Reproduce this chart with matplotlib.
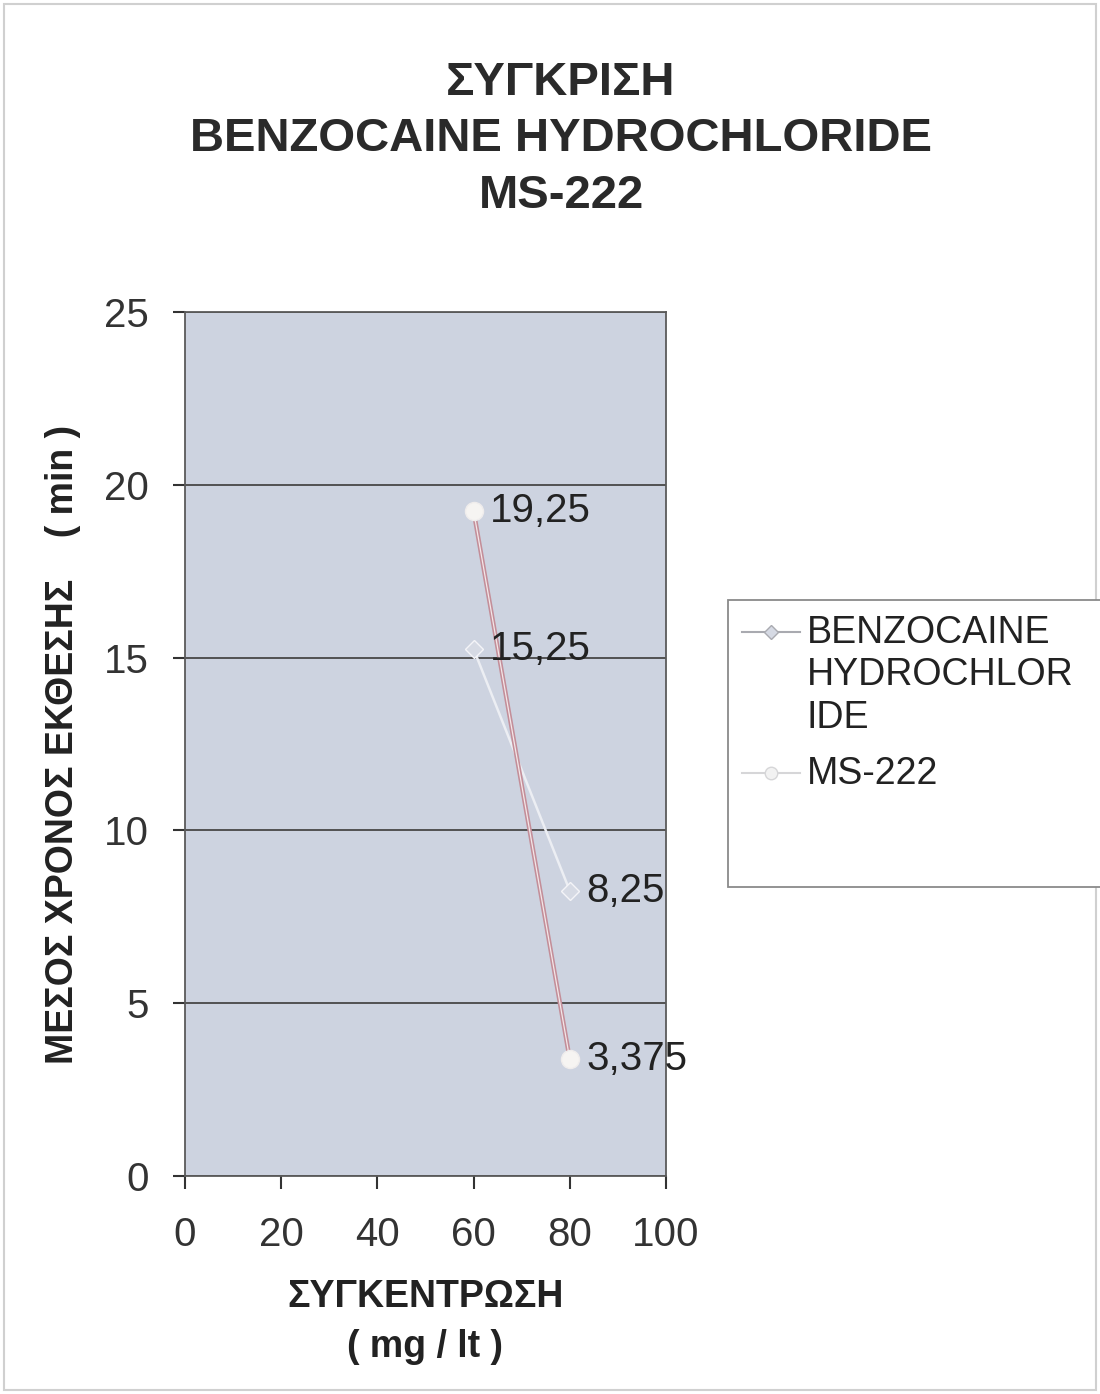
import matplotlib
matplotlib.use('Agg')
import matplotlib.pyplot as plt
from matplotlib.patches import Rectangle
from matplotlib.lines import Line2D

plt.rcParams['font.family'] = ['Liberation Sans', 'DejaVu Sans']

concentration = [60, 80]
benzocaine = [15.25, 8.25]
ms222 = [19.25, 3.375]
benzocaine_labels = ['15,25', '8,25']
ms222_labels = ['19,25', '3,375']
series_names = ['BENZOCAINE\nHYDROCHLOR\nIDE', 'MS-222']

fig = plt.figure(figsize=(11, 13.94), dpi=100)
fig.patch.set_facecolor('white')
fig.patches.append(Rectangle((0.004, 0.003), 0.992, 0.994, transform=fig.transFigure,
                             fill=False, edgecolor='#d0d0d0', linewidth=1.5))

ax = fig.add_axes([0.168, 0.1564, 0.4375, 0.6198])
ax.set_facecolor('#cdd3e0')

# benzocaine: pale thin line, diamond markers
ax.plot(concentration, benzocaine, color='#eceef3', linewidth=1.8,
        marker='D', markersize=9, markerfacecolor='#d6dae4', markeredgecolor='#f4f4f8',
        zorder=3)
# ms-222: pink line with a white core, round markers
ax.plot(concentration, ms222, color='#c38e99', linewidth=3.2, zorder=4)
ax.plot(concentration, ms222, color='#f3e6e8', linewidth=0.9, zorder=4,
        marker='o', markersize=13, markerfacecolor='#f6f4f2', markeredgecolor='#efecec')

for x, y, t in zip(concentration, benzocaine, benzocaine_labels):
    ax.annotate(t, (x, y), xytext=(12, 0), textcoords='offset points',
                fontsize=29, va='center', ha='left', color='#222222', zorder=5)
for x, y, t in zip(concentration, ms222, ms222_labels):
    ax.annotate(t, (x, y), xytext=(12, 0), textcoords='offset points',
                fontsize=29, va='center', ha='left', color='#222222', zorder=5)

ax.set_xlim(0, 100)
ax.set_ylim(0, 25)
ax.set_xticks(range(0, 101, 20))
ax.set_yticks(range(0, 26, 5))
ax.tick_params(labelsize=29, colors='#333333', length=9, width=1.5)
ax.tick_params(axis='x', pad=20)
ax.tick_params(axis='y', pad=17)
ax.yaxis.grid(True, color='#474747', linewidth=1.3)
ax.set_axisbelow(True)
for s in ax.spines.values():
    s.set_color('#5a5a5a')
    s.set_linewidth(1.3)

ax.set_ylabel('ΜΕΣΟΣ ΧΡΟΝΟΣ ΕΚΘΕΣΗΣ    ( min )', fontsize=27, fontweight='bold',
              color='#222222', labelpad=16)
ax.set_xlabel('ΣΥΓΚΕΝΤΡΩΣΗ\n( mg / lt )', fontsize=27, fontweight='bold',
              color='#222222', labelpad=18, linespacing=1.5)

fig.text(0.51, 0.9, 'ΣΥΓΚΡΙΣΗ\nBENZOCAINE HYDROCHLORIDE\nMS-222', ha='center', va='center',
         fontsize=34, fontweight='bold', color='#2a2a2a', linespacing=1.37)

# legend drawn by hand: box taller than entries, handles level with first text line
W, H = 1100, 1394
fig.patches.append(Rectangle((728 / W, 1 - 887 / H), 0.34, (887 - 600) / H,
                             transform=fig.transFigure, facecolor='white',
                             edgecolor='#8a8a8a', linewidth=1.3, zorder=1))
legend_rows = [632, 773]
legend_styles = [
    dict(color='#a9aab0', marker='D', markersize=7, markerfacecolor='#d6dae4',
         markeredgecolor='#a9aab0'),
    dict(color='#d6d6d8', marker='o', markersize=9, markerfacecolor='#f2f2f2',
         markeredgecolor='#d6d6d8'),
]
for name, row, style in zip(series_names, legend_rows, legend_styles):
    yf = 1 - row / H
    fig.add_artist(Line2D([742 / W, 800 / W], [yf, yf], transform=fig.transFigure,
                          linewidth=1.5, color=style['color'], zorder=2))
    fig.add_artist(Line2D([771 / W], [yf], transform=fig.transFigure, linestyle='none',
                          zorder=3, **{k: v for k, v in style.items() if k != 'color'}))
    fig.text(807 / W, yf + 0.012, name, ha='left', va='top', fontsize=27,
             color='#222222', linespacing=1.22, zorder=3)

fig.savefig('out.png', dpi=100)
